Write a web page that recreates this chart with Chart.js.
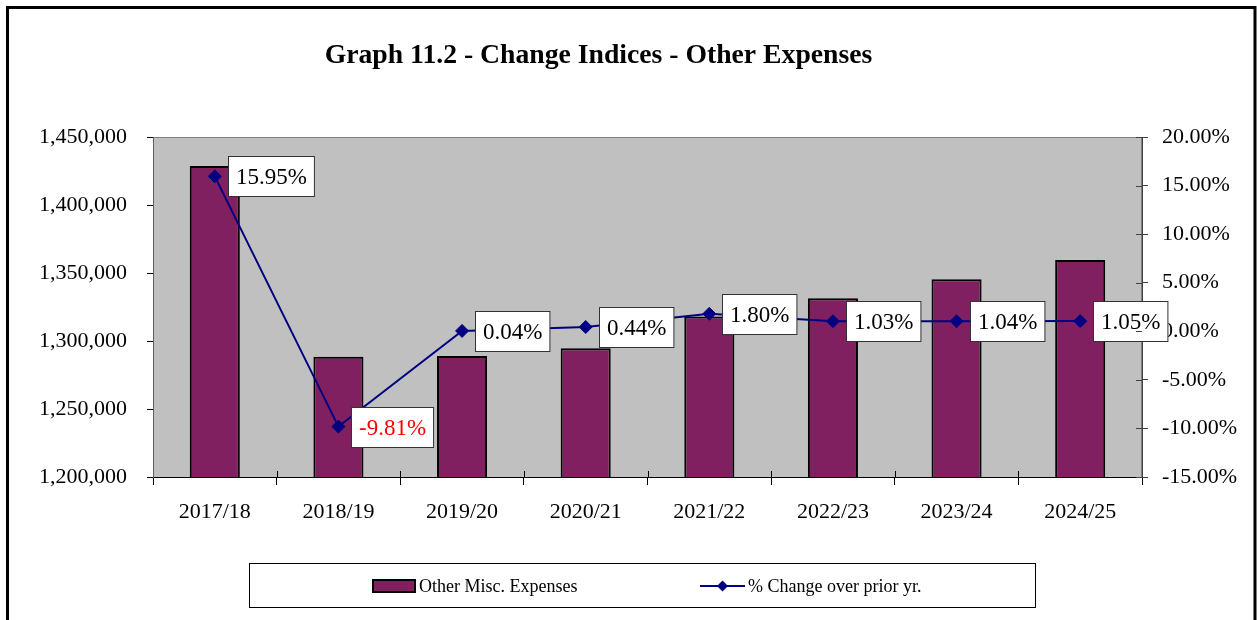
<!DOCTYPE html>
<html>
<head>
<meta charset="utf-8">
<script src="https://cdn.jsdelivr.net/npm/chart.js@4.4.1/dist/chart.umd.min.js"></script>
<style>
  html, body { margin: 0; padding: 0; background: #ffffff; }
  #wrap { width: 1257px; height: 620px; position: relative; overflow: hidden; }
</style>
</head>
<body>
<div id="wrap"><canvas id="chart" width="1257" height="620"></canvas></div>
<script>
// ---- Data ----
const titleText = 'Graph 11.2 - Change Indices - Other Expenses';
const categories = ['2017/18', '2018/19', '2019/20', '2020/21', '2021/22', '2022/23', '2023/24', '2024/25'];
const expenseLabel = 'Other Misc. Expenses';
const expenseValues = [1428600, 1288450, 1288970, 1294640, 1317940, 1331520, 1345370, 1359500];
const changeLabel = '% Change over prior yr.';
const changeValues = [15.95, -9.81, 0.04, 0.44, 1.80, 1.03, 1.04, 1.05];
const leftAxisRange = [1200000, 1450000, 50000];
const rightAxisRange = [-15, 20, 5];

// ---- Styles ----
const SERIF = '"Liberation Serif", "Times New Roman", serif';
const BAR_COLOR = '#802060';
const LINE_COLOR = '#000080';

const backgroundPlugin = {
  id: 'backgroundPlugin',
  beforeDraw(chart) {
    const ctx = chart.ctx;
    const a = chart.chartArea;
    ctx.save();
    ctx.fillStyle = '#ffffff';
    ctx.fillRect(0, 0, chart.width, chart.height);
    // outer frame
    ctx.strokeStyle = '#000000';
    ctx.lineWidth = 3;
    ctx.strokeRect(7.5, 7.5, 1247.5, 700);
    // title
    ctx.fillStyle = '#000000';
    ctx.font = 'bold 27.7px ' + SERIF;
    ctx.textAlign = 'center';
    ctx.textBaseline = 'middle';
    ctx.fillText(chart.options.plugins.customTitle.text, 598.5, 56);
    // plot area
    ctx.fillStyle = '#C0C0C0';
    ctx.fillRect(a.left, a.top, a.right - a.left, a.bottom - a.top);
    ctx.strokeStyle = '#808080';
    ctx.lineWidth = 1;
    ctx.strokeRect(a.left + 0.5, a.top + 0.5, a.right - a.left - 1, a.bottom - a.top);
    ctx.restore();
  },
  afterDraw(chart) {
    // right axis ticks cross the axis line (inner half)
    const ctx = chart.ctx;
    const s = chart.scales.y1;
    ctx.save();
    ctx.strokeStyle = '#404040';
    ctx.lineWidth = 1;
    s.ticks.forEach((t, i) => {
      const py = Math.round(s.getPixelForTick(i)) + 0.5;
      ctx.beginPath();
      ctx.moveTo(s.left - 6, py);
      ctx.lineTo(s.left, py);
      ctx.stroke();
    });
    // x axis separators crossing into plot area
    const xs = chart.scales.x;
    const b = chart.chartArea.bottom;
    ctx.strokeStyle = '#000000';
    for (let i = 1; i < categories.length; i++) {
      const px = Math.round((xs.getPixelForValue(i - 1) + xs.getPixelForValue(i)) / 2) + 0.5;
      ctx.beginPath();
      ctx.moveTo(px, b - 6);
      ctx.lineTo(px, b);
      ctx.stroke();
    }
    ctx.restore();

    // legend box
    const ds = chart.data.datasets;
    ctx.save();
    ctx.fillStyle = '#ffffff';
    ctx.fillRect(249, 563, 786, 44);
    ctx.strokeStyle = '#000000';
    ctx.lineWidth = 1;
    ctx.strokeRect(249.5, 563.5, 786, 44);
    // bar swatch
    ctx.fillStyle = BAR_COLOR;
    ctx.fillRect(372, 579, 44, 14);
    ctx.lineWidth = 2;
    ctx.strokeRect(373, 580, 42, 12);
    // line swatch
    ctx.strokeStyle = LINE_COLOR;
    ctx.lineWidth = 2;
    ctx.beginPath();
    ctx.moveTo(700, 586);
    ctx.lineTo(745, 586);
    ctx.stroke();
    ctx.fillStyle = LINE_COLOR;
    ctx.beginPath();
    ctx.moveTo(722.5, 580.5);
    ctx.lineTo(728, 586);
    ctx.lineTo(722.5, 591.5);
    ctx.lineTo(717, 586);
    ctx.closePath();
    ctx.fill();
    ctx.fillStyle = '#000000';
    ctx.font = '18px ' + SERIF;
    ctx.textAlign = 'left';
    ctx.textBaseline = 'middle';
    ctx.fillText(ds[0].label, 419, 587);
    ctx.fillText(ds[1].label, 748, 587);
    ctx.restore();
  }
};

const dataLabelPlugin = {
  id: 'dataLabelPlugin',
  afterDatasetsDraw(chart) {
    const ctx = chart.ctx;
    const meta = chart.getDatasetMeta(1);
    const values = chart.data.datasets[1].data;
    ctx.save();
    ctx.font = '23px ' + SERIF;
    ctx.textBaseline = 'middle';
    ctx.textAlign = 'left';
    meta.data.forEach((pt, i) => {
      const v = values[i];
      const txt = v.toFixed(2) + '%';
      const w = ctx.measureText(txt).width + 15;
      const h = 40;
      const x0 = Math.round(pt.x + 13) + 0.5;
      const y0 = Math.round(pt.y - h / 2) + 0.5;
      ctx.fillStyle = '#ffffff';
      ctx.fillRect(x0, y0, w, h);
      ctx.strokeStyle = '#333333';
      ctx.lineWidth = 1;
      ctx.strokeRect(x0, y0, w, h);
      ctx.fillStyle = v < 0 ? '#FF0000' : '#000000';
      ctx.fillText(txt, x0 + 7.5, y0 + h / 2 + 1);
    });
    ctx.restore();
  }
};

const chart = new Chart(document.getElementById('chart'), {
  data: {
    labels: categories,
    datasets: [
      {
        type: 'bar',
        label: expenseLabel,
        data: expenseValues,
        yAxisID: 'y',
        backgroundColor: BAR_COLOR,
        borderColor: '#000000',
        borderWidth: 2,
        borderSkipped: false,
        barPercentage: 0.405,
        categoryPercentage: 1.0,
        order: 1
      },
      {
        type: 'line',
        label: changeLabel,
        data: changeValues,
        yAxisID: 'y1',
        borderColor: LINE_COLOR,
        backgroundColor: LINE_COLOR,
        borderWidth: 2,
        pointStyle: 'rectRot',
        pointRadius: 6.5,
        pointBackgroundColor: LINE_COLOR,
        pointBorderColor: LINE_COLOR,
        pointBorderWidth: 1,
        tension: 0,
        fill: false,
        order: 0
      }
    ]
  },
  options: {
    responsive: false,
    animation: false,
    devicePixelRatio: 1,
    layout: { padding: { left: 0, right: 0, top: 137, bottom: 0 } },
    plugins: {
      legend: { display: false },
      tooltip: { enabled: false },
      title: { display: false },
      customTitle: { text: titleText }
    },
    scales: {
      x: {
        type: 'category',
        offset: true,
        grid: { display: true, drawOnChartArea: false, offset: true, tickLength: 8, color: '#000000', tickColor: '#000000' },
        border: { display: true, color: '#000000', width: 1 },
        ticks: { color: '#000000', font: { family: SERIF, size: 22 }, padding: 14, maxRotation: 0, autoSkip: false },
        afterFit(s) { s.height = 143; }
      },
      y: {
        position: 'left',
        min: leftAxisRange[0],
        max: leftAxisRange[1],
        grid: { display: true, drawOnChartArea: false, tickLength: 6, tickColor: '#000000' },
        border: { display: true, color: '#606060', width: 1 },
        ticks: {
          stepSize: leftAxisRange[2],
          color: '#000000',
          font: { family: SERIF, size: 22 },
          padding: 20,
          callback: (v) => Number(v).toLocaleString('en-US')
        },
        afterFit(s) { s.width = 153; }
      },
      y1: {
        position: 'right',
        min: rightAxisRange[0],
        max: rightAxisRange[1],
        grid: { display: true, drawOnChartArea: false, tickLength: 6, tickColor: '#404040' },
        border: { display: true, color: '#404040', width: 1 },
        ticks: {
          stepSize: rightAxisRange[2],
          color: '#000000',
          font: { family: SERIF, size: 22 },
          padding: 14,
          callback: (v) => Number(v).toFixed(2) + '%'
        },
        afterFit(s) { s.width = 115; }
      }
    }
  },
  plugins: [backgroundPlugin, dataLabelPlugin]
});
</script>
</body>
</html>
